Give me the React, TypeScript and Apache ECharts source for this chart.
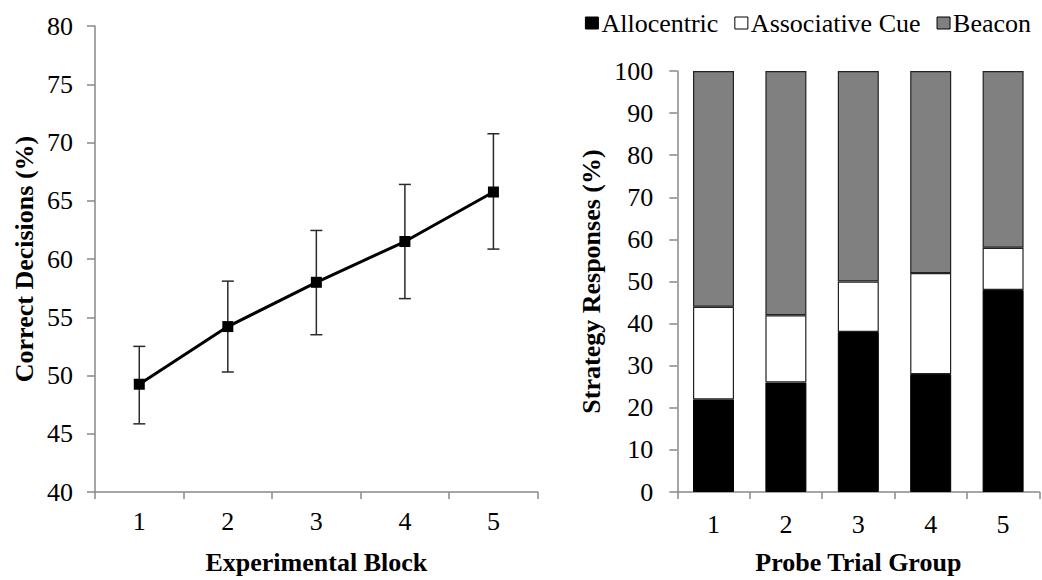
import React, { useEffect, useRef } from "react";
import * as echarts from "echarts";

const blocks = ["1", "2", "3", "4", "5"];
const correctMean = [49.25, 54.2, 58.0, 61.5, 65.75];
const correctLow = [45.85, 50.3, 53.5, 56.6, 60.85];
const correctHigh = [52.5, 58.1, 62.45, 66.4, 70.75];

const groups = ["1", "2", "3", "4", "5"];
const allocentric = [22, 26, 38, 28, 48];
const associative = [22, 16, 12, 24, 10];
const beacon = [56, 58, 50, 48, 42];

const FONT = "Liberation Serif";
const AXIS_GRAY = "#898989";

export default function App() {
  const ref = useRef<HTMLDivElement>(null);
  useEffect(() => {
    if (!ref.current) return;
    const chart = echarts.init(ref.current, null, { renderer: "svg" });
    const errData = blocks.map((b, i) => [i, correctLow[i], correctHigh[i]]);
    const axisLine = { show: true, lineStyle: { color: AXIS_GRAY, width: 1.5 } };
    const axisTick = (len: number) => ({ show: true, length: len, lineStyle: { color: AXIS_GRAY, width: 1.5 } });
    const labelStyle = { color: "#000", fontFamily: FONT, fontSize: 26, fontWeight: "normal" as const };
    const nameStyle = { color: "#000", fontFamily: FONT, fontSize: 26, fontWeight: "bold" as const };
    chart.setOption({
      animation: false,
      textStyle: { fontFamily: FONT },
      grid: [
        { left: 95, right: 504.3, top: 26, bottom: 84 },
        { left: 677.3, right: 2.7, top: 71, bottom: 84 },
      ],
      legend: {
        right: 6,
        top: 5,
        icon: "rect",
        itemWidth: 13,
        itemHeight: 12,
        itemGap: 16,
        data: ["Allocentric", "Associative Cue", "Beacon"],
        textStyle: { color: "#000", fontFamily: FONT, fontSize: 26, fontWeight: "normal", padding: [0, 0, 0, -2] },
        itemStyle: { borderColor: "#000", borderWidth: 1 },
      },
      xAxis: [
        {
          type: "category",
          gridIndex: 0,
          data: blocks,
          boundaryGap: true,
          axisLine,
          axisTick: axisTick(7),
          axisLabel: { ...labelStyle, margin: 16 },
          name: "Experimental Block",
          nameLocation: "middle",
          nameGap: 57,
          nameTextStyle: nameStyle,
        },
        {
          type: "category",
          gridIndex: 1,
          data: groups,
          boundaryGap: true,
          axisLine,
          axisTick: axisTick(7),
          axisLabel: { ...labelStyle, margin: 19 },
          name: "Probe Trial Group",
          nameLocation: "middle",
          nameGap: 57,
          nameTextStyle: nameStyle,
        },
      ],
      yAxis: [
        {
          type: "value",
          gridIndex: 0,
          min: 40,
          max: 80,
          interval: 5,
          axisLine,
          axisTick: axisTick(8),
          splitLine: { show: false },
          axisLabel: { ...labelStyle, margin: 22 },
          name: "Correct Decisions (%)",
          nameLocation: "middle",
          nameRotate: 90,
          nameGap: 58,
          nameTextStyle: nameStyle,
        },
        {
          type: "value",
          gridIndex: 1,
          min: 0,
          max: 100,
          interval: 10,
          axisLine,
          axisTick: axisTick(8),
          splitLine: { show: false },
          axisLabel: { ...labelStyle, margin: 24 },
          name: "Strategy Responses (%)",
          nameLocation: "middle",
          nameRotate: 90,
          nameGap: 73,
          nameTextStyle: nameStyle,
        },
      ],
      series: [
        {
          type: "custom",
          xAxisIndex: 0,
          yAxisIndex: 0,
          z: 2,
          data: errData,
          encode: { x: 0, y: [1, 2] },
          renderItem: (params: any, api: any) => {
            const lo = api.coord([api.value(0), api.value(1)]);
            const hi = api.coord([api.value(0), api.value(2)]);
            const half = 6;
            const st = { stroke: "#2a2a2a", lineWidth: 1.5 };
            return {
              type: "group",
              children: [
                { type: "line", shape: { x1: lo[0], y1: lo[1], x2: hi[0], y2: hi[1] }, style: st },
                { type: "line", shape: { x1: lo[0] - half, y1: lo[1], x2: lo[0] + half, y2: lo[1] }, style: st },
                { type: "line", shape: { x1: hi[0] - half, y1: hi[1], x2: hi[0] + half, y2: hi[1] }, style: st },
              ],
            };
          },
        },
        {
          type: "line",
          name: "Correct",
          xAxisIndex: 0,
          yAxisIndex: 0,
          z: 3,
          data: correctMean,
          symbol: "rect",
          symbolSize: 11,
          lineStyle: { color: "#000", width: 3 },
          itemStyle: { color: "#000" },
        },
        {
          type: "bar",
          name: "Allocentric",
          xAxisIndex: 1,
          yAxisIndex: 1,
          stack: "s",
          barWidth: 41,
          data: allocentric,
          itemStyle: { color: "#000", borderColor: "#000", borderWidth: 1 },
        },
        {
          type: "bar",
          name: "Associative Cue",
          xAxisIndex: 1,
          yAxisIndex: 1,
          stack: "s",
          barWidth: 41,
          data: associative,
          itemStyle: { color: "#fff", borderColor: "#222", borderWidth: 1.2 },
        },
        {
          type: "bar",
          name: "Beacon",
          xAxisIndex: 1,
          yAxisIndex: 1,
          stack: "s",
          barWidth: 41,
          data: beacon,
          itemStyle: { color: "#808080", borderColor: "#222", borderWidth: 1.2 },
        },
      ],
    });
    return () => chart.dispose();
  }, []);
  return (
    <div
      ref={ref}
      style={{ position: "fixed", left: 0, top: 0, width: 1042, height: 580, background: "#fff" }}
    />
  );
}
